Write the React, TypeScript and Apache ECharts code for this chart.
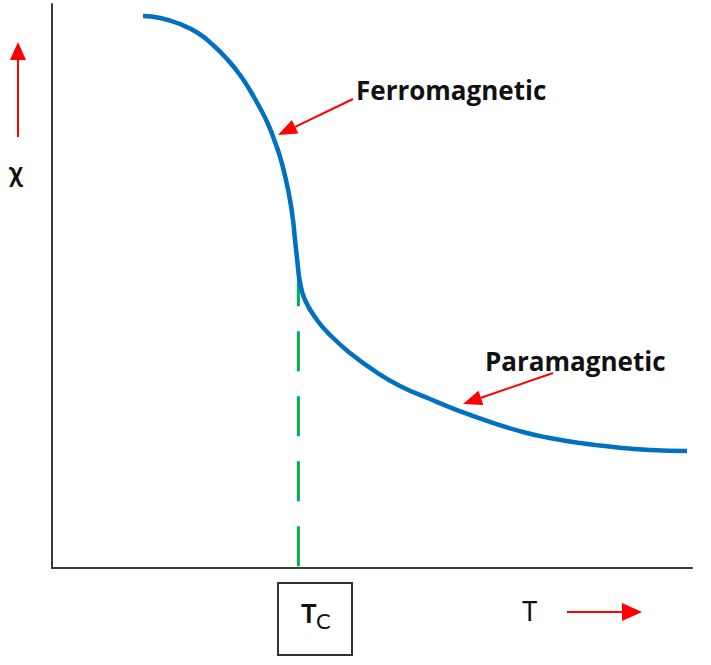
import React, { useEffect, useRef } from "react";
import * as echarts from "echarts";

// Ferromagnetic branch (T, χ) in arbitrary units
const ferroT = [14.22, 16.88, 20.0, 22.81, 25.16, 27.34, 29.38, 31.09, 32.5, 33.75, 34.84, 35.78, 36.56, 37.19, 37.66, 37.97, 38.28, 38.44];
const ferroChi = [97.87, 97.52, 96.45, 94.86, 92.73, 90.25, 87.41, 84.4, 81.56, 78.72, 75.53, 72.34, 68.79, 65.25, 61.7, 58.16, 54.96, 53.19];
// Paramagnetic branch
const paraT = [38.44, 38.75, 39.53, 41.41, 43.44, 46.56, 50.16, 54.38, 59.06, 63.28, 68.44, 73.59, 77.34, 82.5, 87.66, 93.44, 99.22];
const paraChi = [53.19, 50.71, 47.52, 43.97, 41.31, 38.12, 35.11, 32.27, 29.96, 28.01, 25.89, 24.11, 23.14, 22.16, 21.45, 20.92, 20.74];
// Curie temperature marker
const curieT = 38.5;
const curieTop = 53.5;

const labelFerro = "Ferromagnetic";
const labelPara = "Paramagnetic";
const labelY = "χ";
const labelX = "T";
const labelTcMain = "T";
const labelTcSub = "C";

function arrow(x1: number, y1: number, x2: number, y2: number, headLen: number, headW: number, color: string) {
  const dx = x2 - x1;
  const dy = y2 - y1;
  const len = Math.sqrt(dx * dx + dy * dy);
  const ux = dx / len;
  const uy = dy / len;
  const bx = x2 - ux * headLen;
  const by = y2 - uy * headLen;
  const px = -uy * headW / 2;
  const py = ux * headW / 2;
  return [
    { type: "line", shape: { x1, y1, x2: bx, y2: by }, style: { stroke: color, lineWidth: 2 } },
    {
      type: "polygon",
      shape: { points: [[x2, y2], [bx + px, by + py], [bx - px, by - py]] },
      style: { fill: color },
    },
  ];
}

export default function App() {
  const ref = useRef<HTMLDivElement>(null);
  useEffect(() => {
    if (!ref.current) return;
    const chart = echarts.init(ref.current, null, { renderer: "svg" });
    const blue = "#0070c0";
    const red = "#ff0000";
    const labelFont = "'Open Sans', Lato, sans-serif";
    const textFont = "Lato, 'Open Sans', sans-serif";
    chart.setOption({
      animation: false,
      backgroundColor: "#ffffff",
      grid: { left: 52, top: 4, right: 19, bottom: 97 },
      xAxis: {
        type: "value",
        min: 0,
        max: 100,
        axisLine: { show: true, onZero: false, lineStyle: { color: "#3a3a3a", width: 2 } },
        axisTick: { show: false },
        axisLabel: { show: false },
        splitLine: { show: false },
      },
      yAxis: {
        type: "value",
        min: 0,
        max: 100,
        axisLine: { show: true, onZero: false, lineStyle: { color: "#3a3a3a", width: 2 } },
        axisTick: { show: false },
        axisLabel: { show: false },
        splitLine: { show: false },
      },
      series: [
        {
          type: "line",
          data: [[curieT, curieTop], [curieT, 0]],
          showSymbol: false,
          lineStyle: { color: "#00b050", width: 3, type: [40, 25] },
          z: 1,
        },
        {
          type: "line",
          data: ferroT.map((t, i) => [t, ferroChi[i]]),
          smooth: 0.5,
          showSymbol: false,
          lineStyle: { color: blue, width: 4.5 },
          z: 2,
        },
        {
          type: "line",
          data: paraT.map((t, i) => [t, paraChi[i]]),
          smooth: 0.5,
          showSymbol: false,
          lineStyle: { color: blue, width: 4.5 },
          z: 2,
        },
      ],
      graphic: [
        {
          type: "text",
          left: 356,
          top: 77,
          style: { text: labelFerro, font: `bold 26px ${labelFont}`, fill: "#111" },
        },
        {
          type: "text",
          left: 485,
          top: 348,
          style: { text: labelPara, font: `bold 26px ${labelFont}`, fill: "#111" },
        },
        {
          type: "text",
          left: 9,
          top: 157,
          style: { text: labelY, font: `bold 28px ${textFont}`, fill: "#111" },
        },
        {
          type: "text",
          left: 522,
          top: 598,
          style: { text: labelX, font: `26px ${textFont}`, fill: "#111" },
        },
        {
          type: "rect",
          shape: { x: 278, y: 583, width: 74, height: 72 },
          style: { fill: "none", stroke: "#333", lineWidth: 2 },
        },
        {
          type: "text",
          left: 301,
          top: 600,
          style: { text: labelTcMain, font: `bold 26px ${textFont}`, fill: "#111" },
        },
        {
          type: "text",
          left: 316,
          top: 609,
          style: { text: labelTcSub, font: `22px ${textFont}`, fill: "#111" },
        },
        ...arrow(18, 137, 18, 42, 18, 16, red),
        ...arrow(567, 612, 642, 612, 20, 18, red),
        ...arrow(353, 99, 278, 135, 19, 15, red),
        ...arrow(553, 373, 463, 404, 19, 15, red),
      ],
    });
    return () => chart.dispose();
  }, []);
  return (
    <div
      ref={ref}
      style={{ position: "fixed", left: 0, top: 0, width: 711, height: 665, background: "#fff" }}
    />
  );
}
